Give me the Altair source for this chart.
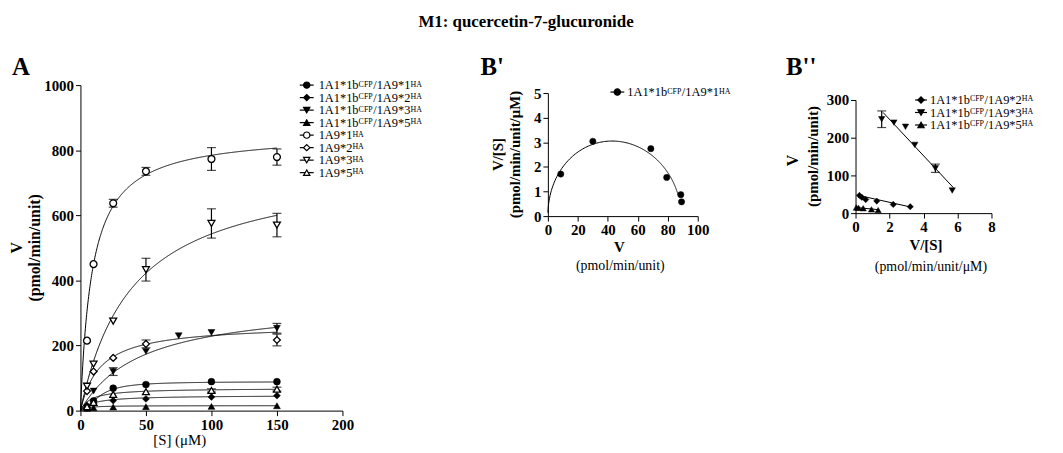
import altair as alt
import pandas as pd

FONT = "Liberation Serif"
W, H = 1055, 445

# ---------------- Panel A: V vs [S] ----------------
S_main = [5, 10, 25, 50, 100, 150]
S_s3 = [10, 25, 50, 75, 100, 150]
S_s6 = [5, 10, 25, 50, 150]

V_s1 = [9, 30, 69, 80, 89, 89]
V_s2 = [16, 22, 31, 36, 42, 46]
V_s3 = [60, 120, 182, 230, 240, 253]
V_s4 = [7, 9, 11, 12, 13, 15]
V_s5 = [215, 450, 637, 735, 773, 779]
V_s6 = [60, 120, 162, 205, 217]
V_s7 = [75, 143, 275, 433, 575, 570]
V_s8 = [12, 25, 50, 58, 62, 66]

E_s1 = [0, 0, 0, 0, 0, 0]
E_s2 = [0, 0, 0, 0, 0, 0]
E_s3 = [0, 12, 0, 0, 0, 15]
E_s4 = [0, 0, 0, 0, 0, 0]
E_s5 = [0, 0, 12, 12, 35, 25]
E_s6 = [0, 0, 0, 12, 18]
E_s7 = [0, 0, 0, 35, 45, 36]
E_s8 = [0, 0, 0, 0, 5, 6]

# kinetic fit parameters (Vmax, K, Hill n)
fit_vmax = [89, 47, 336, 15.5, 855, 265, 760, 69]
fit_k = [14.6, 10, 47, 4, 9, 15, 40, 8]
fit_n = [1.93, 1, 1, 1, 1, 1, 1, 1]

legend_A = [
    [("1A1*1b", 0), ("CFP", 1), ("/1A9*1", 0), ("HA", 1)],
    [("1A1*1b", 0), ("CFP", 1), ("/1A9*2", 0), ("HA", 1)],
    [("1A1*1b", 0), ("CFP", 1), ("/1A9*3", 0), ("HA", 1)],
    [("1A1*1b", 0), ("CFP", 1), ("/1A9*5", 0), ("HA", 1)],
    [("1A9*1", 0), ("HA", 1)],
    [("1A9*2", 0), ("HA", 1)],
    [("1A9*3", 0), ("HA", 1)],
    [("1A9*5", 0), ("HA", 1)],
]
shapes = ["circle", "diamond", "triangle-down", "triangle-up",
          "circle", "diamond", "triangle-down", "triangle-up"]
filled = [True, True, True, True, False, False, False, False]

# ---------------- Panel B': V/[S] vs V ----------------
Bp_V = [8.6, 30, 68.7, 79.3, 88.7, 89.2]
Bp_VS = [1.71, 3.04, 2.74, 1.57, 0.87, 0.58]

# ---------------- Panel B'': V vs V/[S] ----------------
Bpp2_VS = [0.23, 0.37, 0.6, 1.25, 2.22, 3.22]
Bpp2_V = [47, 42, 36, 32, 23, 17]
Bpp3_VS = [1.54, 2.26, 2.94, 3.49, 4.7, 5.69]
Bpp3_V = [249, 240, 229, 181, 119, 60]
Bpp3_E = [22, 0, 0, 0, 11, 0]
Bpp4_VS = [0.05, 0.18, 0.45, 0.94, 1.33]
Bpp4_V = [15, 14, 13, 10, 8]
line2_VS = [0.18, 3.22]
line2_V = [47, 16.5]
line3_VS = [1.62, 5.75]
line3_V = [267, 68]
line4_VS = [0.03, 1.4]
line4_V = [15, 9]

# ---------------- layout (chart-group pixels) ----------------
panels = {
    "A": dict(xd=[0, 200], xr=[73, 337], yd=[0, 1000], yr=[404, 76],
              xt=[0, 50, 100, 150, 200], yt=[0, 200, 400, 600, 800, 1000]),
    "Bp": dict(xd=[0, 100], xr=[544, 695], yd=[0, 5], yr=[208, 84],
               xt=[0, 20, 40, 60, 80, 100], yt=[0, 1, 2, 3, 4, 5]),
    "Bpp": dict(xd=[0, 8], xr=[854, 991], yd=[0, 300], yr=[205, 91],
                xt=[0, 2, 4, 6, 8], yt=[0, 100, 200, 300]),
}

axis_style = dict(grid=False, title=None, tickSize=5, tickWidth=1, tickColor="black",
                  domainColor="black", domainWidth=1, labelColor="black", labelFont=FONT,
                  labelFontSize=15, labelFontWeight="bold", labelFlush=False,
                  labelOverlap=False, labelPadding=2, format="d")


def enc(p, xf, yf, axes=False, y2=None):
    c = panels[p]
    xa = alt.Axis(orient="bottom", offset=c["yr"][0] - H, values=c["xt"], **axis_style) if axes else None
    ya = alt.Axis(orient="left", offset=-c["xr"][0], values=c["yt"], **axis_style) if axes else None
    d = dict(
        x=alt.X(xf, type="quantitative", scale=alt.Scale(domain=c["xd"], range=c["xr"], nice=False, zero=False), axis=xa),
        y=alt.Y(yf, type="quantitative", scale=alt.Scale(domain=c["yd"], range=c["yr"], nice=False, zero=False), axis=ya),
    )
    if y2 is not None:
        d["y2"] = alt.Y2(y2)
    return d


def marker(shape, is_filled, size=48):
    if is_filled:
        return dict(shape=shape, filled=True, fill="black",
                    stroke="black", strokeWidth=0.5, size=size, opacity=1)
    return dict(shape=shape, filled=True, fill="white",
                stroke="black", strokeWidth=1.3, size=size, opacity=1)


def errbar_layers(p, df, xf):
    d = df[df["e"] > 0].copy()
    if d.empty:
        return []
    d["lo"] = d["v"] - d["e"]
    d["hi"] = d["v"] + d["e"]
    base = alt.Chart(d)
    return [
        base.mark_rule(color="black", strokeWidth=1.2).encode(**enc(p, xf, "lo", y2="hi")),
        base.mark_tick(orient="horizontal", size=9, thickness=1.2, color="black").encode(**enc(p, xf, "lo")),
        base.mark_tick(orient="horizontal", size=9, thickness=1.2, color="black").encode(**enc(p, xf, "hi")),
    ]


layers = []

# ---- Panel A
A_S = [S_main, S_main, S_s3, S_main, S_main, S_s6, S_main, S_main]
A_V = [V_s1, V_s2, V_s3, V_s4, V_s5, V_s6, V_s7, V_s8]
A_E = [E_s1, E_s2, E_s3, E_s4, E_s5, E_s6, E_s7, E_s8]

first = True
for i in range(8):
    vm, k, n = fit_vmax[i], fit_k[i], fit_n[i]
    curve = alt.Chart(alt.sequence(0, 150.25, 0.25, as_="s")).transform_calculate(
        v=f"{vm}*pow(datum.s,{n})/(pow({k},{n})+pow(datum.s,{n}))"
    ).mark_line(color="black", strokeWidth=1).encode(**enc("A", "s", "v", axes=first))
    first = False
    layers.append(curve)

for i in range(8):
    df = pd.DataFrame({"s": A_S[i], "v": A_V[i], "e": A_E[i]})
    layers += errbar_layers("A", df, "s")

for i in range(8):
    df = pd.DataFrame({"s": A_S[i], "v": A_V[i]})
    layers.append(alt.Chart(df).mark_point(**marker(shapes[i], filled[i])).encode(**enc("A", "s", "v")))

# ---- Panel B'
vm, k, n = fit_vmax[0], fit_k[0], fit_n[0]
bp_curve = alt.Chart(alt.sequence(0.25, 100.25, 0.25, as_="s")).transform_calculate(
    v=f"{vm}*pow(datum.s,{n})/(pow({k},{n})+pow(datum.s,{n}))"
).transform_calculate(vs="datum.v/datum.s").mark_line(color="black", strokeWidth=1).encode(
    order=alt.Order("s:Q"), **enc("Bp", "v", "vs", axes=True))
layers.append(bp_curve)
layers.append(alt.Chart(pd.DataFrame({"v": Bp_V, "vs": Bp_VS})).mark_point(
    **marker("circle", True, 40)).encode(**enc("Bp", "v", "vs")))

# ---- Panel B''
first = True
for lx, ly in [(line2_VS, line2_V), (line3_VS, line3_V), (line4_VS, line4_V)]:
    layers.append(alt.Chart(pd.DataFrame({"vs": lx, "v": ly})).mark_line(color="black", strokeWidth=1)
                  .encode(**enc("Bpp", "vs", "v", axes=first)))
    first = False
df3 = pd.DataFrame({"vs": Bpp3_VS, "v": Bpp3_V, "e": Bpp3_E})
layers += errbar_layers("Bpp", df3, "vs")
for vsx, vy, shp in [(Bpp2_VS, Bpp2_V, "diamond"), (Bpp3_VS, Bpp3_V, "triangle-down"), (Bpp4_VS, Bpp4_V, "triangle-up")]:
    layers.append(alt.Chart(pd.DataFrame({"vs": vsx, "v": vy})).mark_point(
        **marker(shp, True, 40)).encode(**enc("Bpp", "vs", "v")))

# ---------------- text & legends ----------------
CW = {"1": .5, "2": .5, "3": .5, "5": .5, "9": .5, "A": .722, "*": .5, "b": .5,
      "/": .278, "C": .667, "F": .556, "P": .556, "H": .722}


def text_width(t, size):
    return sum(CW.get(ch, .5) for ch in t) * size


legend_text, legend_sym, legend_line = [], [], []


def add_legend(entries, shp, fil, x_line0, x_line1, x_text, y0, dy, main=12.5, sup=8):
    for j, pieces in enumerate(entries):
        yc = y0 + dy * j
        legend_line.append(dict(x=x_line0, x2=x_line1, y=yc))
        legend_sym.append(dict(x=(x_line0 + x_line1) / 2, y=yc, shape=shp[j],
                               fill="black" if fil[j] else "white"))
        x = x_text
        for t, is_sup in pieces:
            s = sup if is_sup else main
            legend_text.append(dict(x=x, y=yc + (1.5 if is_sup else 4.3), text=t, size=s))
            x += text_width(t, s) + (0.5 if is_sup else 0)


add_legend(legend_A, shapes, filled, 294, 308, 313, 76, 12.6)
add_legend([legend_A[0]], ["circle"], [True], 607, 621, 624, 83, 12.6)
add_legend(legend_A[1:4], shapes[1:4], filled[1:4], 914, 926, 929, 91, 12.6)

bold_center = pd.DataFrame([
    dict(x=522, y=17, text="M1: qucercetin-7-glucuronide", size=17),
    dict(x=616, y=244, text="V", size=15),
    dict(x=925, y=242, text="V/[S]", size=15),
])
regular_center = pd.DataFrame([
    dict(x=173, y=439, text="[S] (\u03bcM)", size=15),
    dict(x=617, y=262, text="(pmol/min/unit)", size=14),
    dict(x=930, y=263, text="(pmol/min/unit/\u03bcM)", size=14),
])
bold_rot = pd.DataFrame([
    dict(x=9, y=240, text="V", size=16),
    dict(x=27, y=240, text="(pmol/min/unit)", size=16),
    dict(x=494, y=146, text="V/[S]", size=15),
    dict(x=511, y=146, text="(pmol/min/unit/\u03bcM)", size=15),
    dict(x=791, y=152, text="V", size=16),
    dict(x=811, y=148, text="(pmol/min/unit)", size=15),
])
letters = pd.DataFrame([
    dict(x=4, y=66, text="A", size=25),
    dict(x=476, y=66, text="B'", size=25),
    dict(x=784, y=66, text="B''", size=25),
])

px = lambda f: alt.X(f, type="quantitative", scale=None)
py = lambda f: alt.Y(f, type="quantitative", scale=None)

layers.append(alt.Chart(pd.DataFrame(legend_line)).mark_rule(color="black", strokeWidth=1.2).encode(
    x=px("x"), x2=alt.X2("x2"), y=py("y")))
layers.append(alt.Chart(pd.DataFrame(legend_sym)).mark_point(
    filled=True, stroke="black", strokeWidth=1.2, size=40, opacity=1).encode(
    x=px("x"), y=py("y"), shape=alt.Shape("shape:N", scale=None), fill=alt.Fill("fill:N", scale=None)))
layers.append(alt.Chart(pd.DataFrame(legend_text)).mark_text(
    font=FONT, align="left", baseline="alphabetic", color="black").encode(
    x=px("x"), y=py("y"), text="text:N", size=alt.Size("size:Q", scale=None)))
layers.append(alt.Chart(bold_center).mark_text(
    font=FONT, fontWeight="bold", align="center", baseline="alphabetic", color="black").encode(
    x=px("x"), y=py("y"), text="text:N", size=alt.Size("size:Q", scale=None)))
layers.append(alt.Chart(regular_center).mark_text(
    font=FONT, align="center", baseline="alphabetic", color="black").encode(
    x=px("x"), y=py("y"), text="text:N", size=alt.Size("size:Q", scale=None)))
layers.append(alt.Chart(bold_rot).mark_text(
    font=FONT, fontWeight="bold", align="center", baseline="middle", angle=270, color="black").encode(
    x=px("x"), y=py("y"), text="text:N", size=alt.Size("size:Q", scale=None)))
layers.append(alt.Chart(letters).mark_text(
    font=FONT, fontWeight="bold", align="left", baseline="alphabetic", color="black").encode(
    x=px("x"), y=py("y"), text="text:N", size=alt.Size("size:Q", scale=None)))

chart = alt.layer(*layers).resolve_scale(x="independent", y="independent").properties(
    width=W, height=H, autosize=alt.AutoSizeParams(type="none"), padding=0,
    background="white"
).configure_view(stroke=None)

chart.save("out.html", embed_options={"renderer": "svg", "actions": False})
